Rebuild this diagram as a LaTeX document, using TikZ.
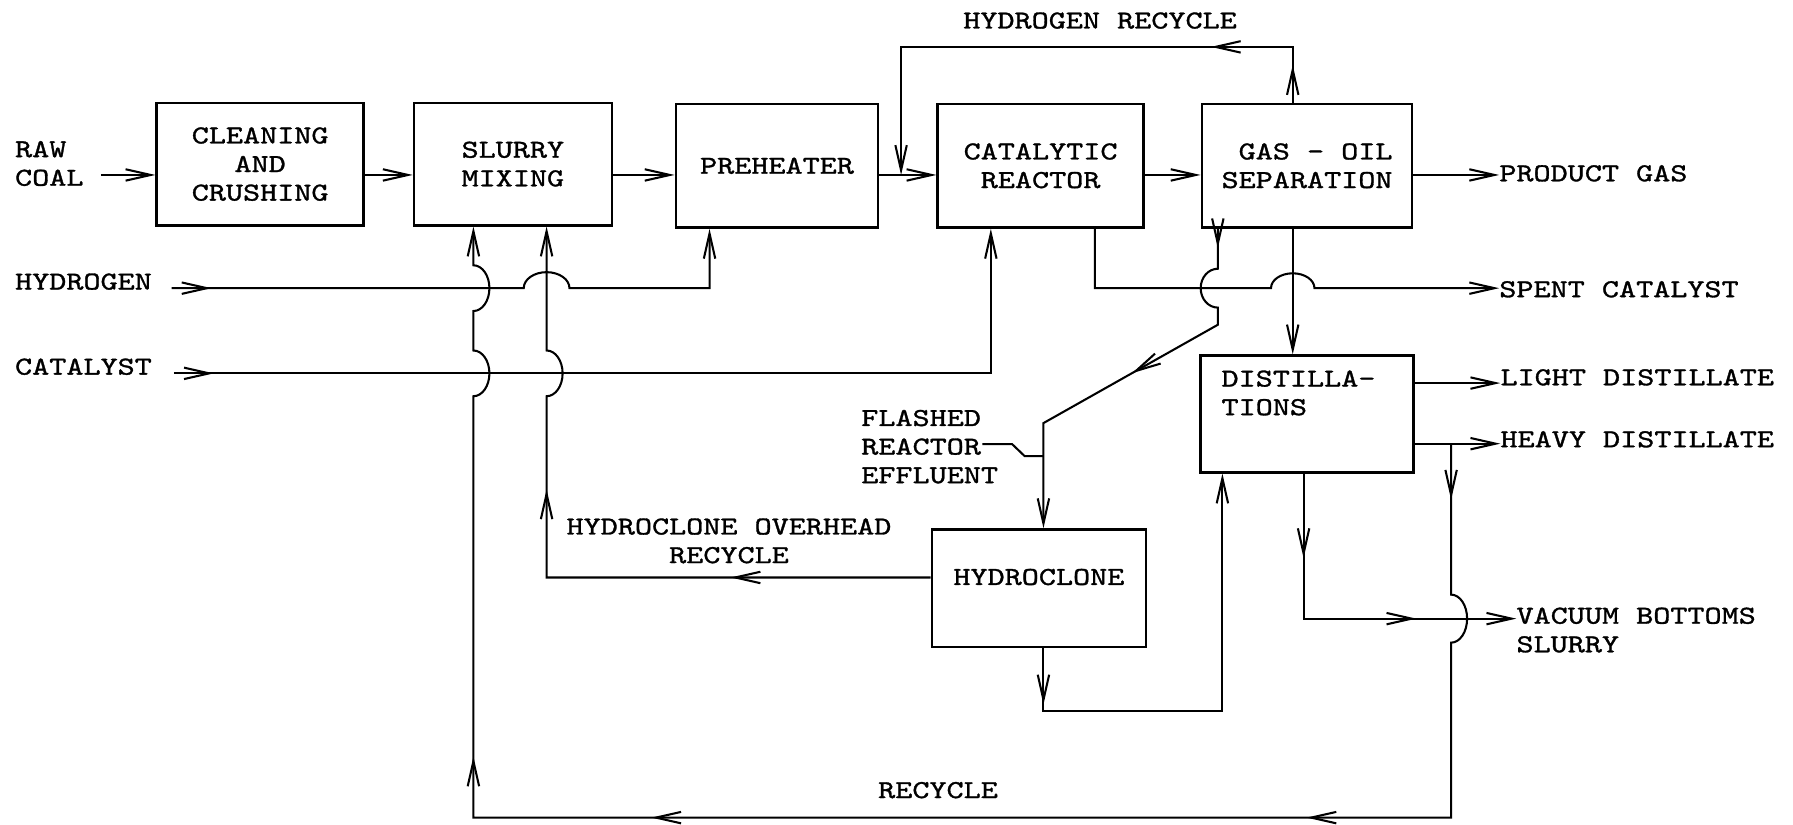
\documentclass[tikz,border=0pt]{standalone}
\usepackage{fontspec}
\newfontfamily\typer{lmmono10-regular.otf}[FakeStretch=1.26, FakeBold=1.2]
\usetikzlibrary{arrows.meta,decorations.markings}
\tikzset{
  pipetip/.tip={Straight Barb[length=22pt,width=10pt]},
  unit/.style={draw, line width=2.2pt, inner sep=0pt, align=center, font=\fontsize{22.6}{25}\typer},
  tag/.style={inner sep=0pt, align=left, font=\fontsize{22.6}{25}\typer},
  pipe/.style={line width=1.8pt},
  flow/.style={pipe, -{pipetip}},
  tip at/.style={postaction={decorate, decoration={markings, mark=at position #1 with {\arrow{pipetip}}}}},
}

\begin{document}
\begin{tikzpicture}[x=1pt, y=-1pt]
  \useasboundingbox (0,0) rectangle (1568,721);
  % Process units
  \node[unit, minimum width=181, minimum height=107] (clean) at (227.5,143.5) {CLEANING\\AND\\CRUSHING};
  \node[unit, minimum width=173, minimum height=107] (slurry) at (448.5,143.5) {SLURRY\\MIXING};
  \node[unit, minimum width=177, minimum height=108] (preheat) at (679.5,145) {PREHEATER};
  \node[unit, minimum width=180, minimum height=108] (reactor) at (910,145) {CATALYTIC\\REACTOR};
  \node[unit, align=right, minimum width=184, minimum height=108] (gasoil) at (1143,145) {GAS - OIL\\SEPARATION};
  \node[unit, align=left, minimum width=186, minimum height=102, text depth=37pt] (distil) at (1143,362) {DISTILLA-\hphantom{-}\\TIONS};
  \node[unit, minimum width=187, minimum height=103, text depth=20pt] (hydro) at (908.5,514.5) {HYDROCLONE};
  % Stream labels
  \node[tag, anchor=west] (rawcoal) at (13,143) {RAW\\COAL};
  \node[tag, anchor=west] (hydrogen) at (13,246.3) {HYDROGEN};
  \node[tag, anchor=west] (catalyst) at (13,320.7) {CATALYST};
  \node[tag] (hrtitle) at (962,18) {HYDROGEN RECYCLE};
  \node[tag, anchor=west] (product) at (1311,151.6) {PRODUCT GAS};
  \node[tag, anchor=west] (spent) at (1311,253) {SPENT CATALYST};
  \node[tag, anchor=west] (light) at (1312,330) {LIGHT DISTILLATE};
  \node[tag, anchor=west] (heavy) at (1312,384.2) {HEAVY DISTILLATE};
  \node[tag, anchor=west] (vacuum) at (1326,551) {VACUUM BOTTOMS\\SLURRY};
  \node[tag, anchor=west] (flashed) at (753,390.6) {FLASHED\\REACTOR\\EFFLUENT};
  \node[tag, align=center] (ovtitle) at (637.5,473) {HYDROCLONE OVERHEAD\\RECYCLE};
  \node[tag] (rectitle) at (820.3,691) {RECYCLE};
  % Rows and columns of the piping
  \coordinate (rowT) at (0,41);
  \coordinate (rowA) at (0,153);
  \coordinate (rowH) at (0,252);
  \coordinate (rowC) at (0,326.5);
  \coordinate (rowL) at (0,335);
  \coordinate (rowD) at (0,388);
  \coordinate (rowO) at (0,505);
  \coordinate (rowV) at (0,541);
  \coordinate (rowB) at (0,621.5);
  \coordinate (rowR) at (0,715);
  \coordinate (colR) at (414,0);
  \coordinate (colO) at (478,0);
  \coordinate (colP) at (620.5,0);
  \coordinate (colT) at (788,0);
  \coordinate (colK) at (866.5,0);
  \coordinate (colH) at (912.5,0);
  \coordinate (colS) at (957.5,0);
  \coordinate (colF) at (1065,0);
  \coordinate (colB) at (1069,0);
  \coordinate (colG) at (1130.5,0);
  \coordinate (colV) at (1140,0);
  \coordinate (colY) at (1269,0);
  \coordinate (fl1) at (1065,284);
  \coordinate (fl2) at (912.5,370);
  \coordinate (ldA) at (859,388.3);
  \coordinate (ldB) at (912.5,398.8);
  % Main train
  \draw[flow] ([xshift=15pt]rawcoal.east |- rowA) -- (clean.west |- rowA);
  \foreach \a/\b in {clean/slurry, slurry/preheat, preheat/reactor, reactor/gasoil}
    \draw[flow] (\a.east |- rowA) -- (\b.west |- rowA);
  \draw[flow] (gasoil.east |- rowA) -- (product.west |- rowA);
  % Hydrogen recycle
  \draw[flow, tip at=33pt, tip at=120.5pt] (colG |- gasoil.north) -- (colG |- rowT) -- (colT |- rowT) -- (colT |- rowA);
  % Hydrogen and catalyst feeds
  \draw[flow, tip at=35pt] ([xshift=17pt]hydrogen.east |- rowH) -- ([xshift=-20pt]colO |- rowH)
    arc[start angle=180, end angle=360, x radius=20, y radius=14] -- (colP |- rowH) -- (colP |- preheat.south);
  \draw[flow, tip at=35pt] ([xshift=19pt]catalyst.east |- rowC) -- (colK |- rowC) -- (colK |- reactor.south);
  % Recycle to slurry mixing
  \draw[flow, tip at=49pt, tip at=467pt, tip at=1040pt, tip at=1249pt] (colY |- rowD) -- ([yshift=21pt]colY |- rowV)
    arc[start angle=-90, end angle=90, x radius=14, y radius=21] -- (colY |- rowR) -- (colR |- rowR)
    -- ([yshift=-20pt]colR |- rowC) arc[start angle=90, end angle=-90, x radius=14, y radius=20]
    -- ([yshift=-20pt]colR |- rowH) arc[start angle=90, end angle=-90, x radius=14, y radius=20]
    -- (colR |- slurry.south);
  % Hydroclone overhead recycle
  \draw[flow, tip at=175pt, tip at=413pt] (hydro.west |- rowO) -- (colO |- rowO)
    -- ([yshift=-20pt]colO |- rowC) arc[start angle=90, end angle=-90, x radius=14, y radius=20]
    -- (colO |- slurry.south);
  % Spent catalyst
  \draw[flow] (colS |- reactor.south) -- (colS |- rowH) -- ([xshift=-19pt]colG |- rowH)
    arc[start angle=180, end angle=360, x radius=19, y radius=13] -- (spent.west |- rowH);
  % Separator bottoms
  \draw[flow] (colG |- gasoil.south) -- (colG |- distil.north);
  \draw[flow, tip at=17pt, tip at=186.5pt] (colF |- gasoil.south) -- ([yshift=17pt]colF |- rowH)
    arc[start angle=-90, end angle=-270, x radius=15, y radius=17] -- (fl1) -- (fl2) -- (colH |- hydro.north);
  \draw[pipe] (ldA) -- ++(26,0) -- ++(11,10.5) -- (ldB);
  % Distillation products
  \draw[flow] (distil.east |- rowL) -- (light.west |- rowL);
  \draw[flow] (distil.east |- rowD) -- (heavy.west |- rowD);
  \draw[flow, tip at=74pt, tip at=225.5pt] (colV |- distil.south) -- (colV |- rowV) -- (vacuum.west |- rowV);
  % Hydroclone underflow
  \draw[flow, tip at=49pt] (colH |- hydro.south) -- (colH |- rowB) -- (colB |- rowB) -- (colB |- distil.south);
\end{tikzpicture}
\end{document}
